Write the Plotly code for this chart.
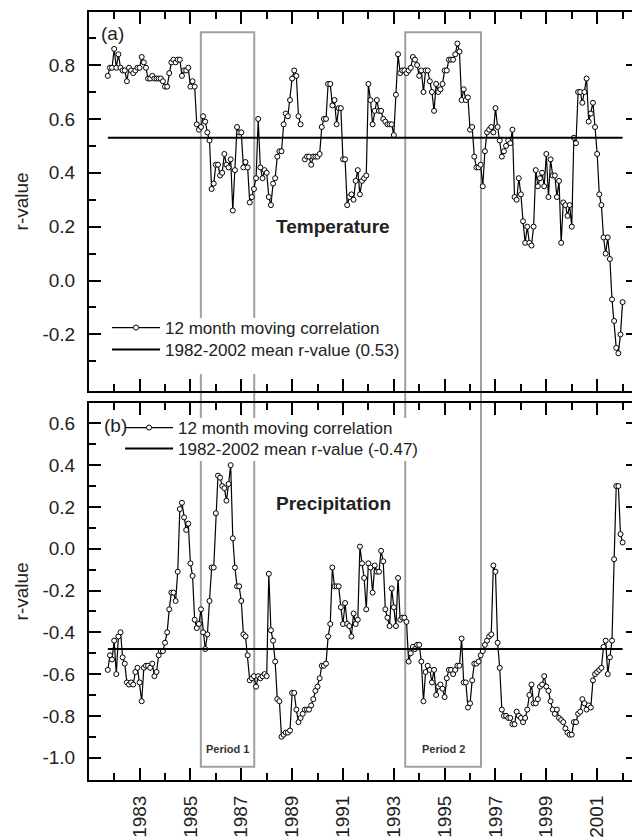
import numpy as np
import plotly.graph_objects as go

# ---------------- data ----------------
START_YEAR = 1981.75          # first month of the 12-month moving correlation series
TEMP_R = [
    0.76, 0.79, 0.79, 0.86, 0.79, 0.84, 0.79, 0.78, 0.78, 0.74,
    0.79, 0.78, 0.77, 0.78, 0.79, 0.79, 0.83, 0.81, 0.79, 0.75,
    0.75, 0.76, 0.75, 0.75, 0.75, 0.75, 0.74, 0.72, 0.72, 0.77,
    0.81, 0.82, 0.81, 0.82, 0.82, 0.76, 0.78, 0.78, 0.79, 0.72,
    0.74, 0.72, 0.58, 0.56, 0.57, 0.61, 0.59, 0.55, 0.52, 0.34,
    0.36, 0.43, 0.43, 0.39, 0.40, 0.47, 0.43, 0.42, 0.45, 0.26,
    0.41, 0.57, 0.55, 0.55, 0.42, 0.44, 0.42, 0.29, 0.31, 0.34,
    0.38, 0.60, 0.42, 0.38, 0.41, 0.40, 0.31, 0.28, 0.36, 0.38,
    0.46, 0.48, 0.48, 0.58, 0.62, 0.61, 0.67, 0.75, 0.78, 0.76,
    0.61, 0.58, None, 0.45, 0.46, 0.46, 0.43, 0.46, 0.46, 0.46,
    0.47, 0.57, 0.60, 0.60, 0.73, 0.73, 0.65, 0.67, 0.58, 0.64,
    0.64, 0.45, 0.45, 0.28, 0.31, 0.32, 0.30, 0.37, 0.41, 0.32,
    0.37, 0.38, 0.39, 0.73, 0.67, 0.58, 0.63, 0.67, 0.63, 0.63,
    0.60, 0.59, 0.58, 0.58, 0.58, 0.54, 0.69, 0.84, 0.77, 0.78,
    0.78, 0.77, 0.78, 0.79, 0.83, 0.82, 0.80, 0.76, 0.78, 0.70,
    0.78, 0.78, 0.74, 0.70, 0.63, 0.73, 0.70, 0.71, 0.73, 0.78,
    0.78, 0.82, 0.82, 0.82, 0.84, 0.88, 0.85, 0.67, 0.71, 0.67,
    0.68, 0.56, 0.57, 0.46, 0.42, 0.42, 0.43, 0.35, 0.48, 0.55,
    0.56, 0.57, 0.55, 0.64, 0.57, 0.52, 0.46, 0.48, 0.50, 0.52,
    0.51, 0.56, 0.31, 0.30, 0.38, 0.32, 0.22, 0.14, 0.20, 0.14,
    0.13, 0.20, 0.41, 0.35, 0.38, 0.40, 0.35, 0.47, 0.31, 0.45,
    0.39, 0.39, 0.31, 0.37, 0.14, 0.29, 0.28, 0.24, 0.28, 0.20,
    0.53, 0.51, 0.70, 0.70, 0.66, 0.70, 0.75, 0.59, 0.62, 0.66,
    0.57, 0.47, 0.32, 0.28, 0.16, 0.10, 0.16, 0.08, -0.07, -0.15,
    -0.25, -0.27, -0.20, -0.08,
]
PRECIP_R = [
    -0.58, -0.51, -0.53, -0.44, -0.60, -0.42, -0.40, -0.52, -0.55, -0.64,
    -0.65, -0.64, -0.65, -0.59, -0.57, -0.64, -0.73, -0.57, -0.56, -0.56,
    -0.57, -0.55, -0.61, -0.59, -0.51, -0.49, -0.49, -0.45, -0.40, -0.29,
    -0.21, -0.21, -0.25, -0.11, 0.19, 0.22, 0.15, 0.09, 0.12, -0.07,
    -0.13, -0.34, -0.38, -0.36, -0.29, -0.40, -0.48, -0.41, -0.25, -0.09,
    -0.09, 0.17, 0.35, 0.34, 0.30, 0.29, 0.23, 0.31, 0.40, 0.05,
    -0.09, -0.18, -0.18, -0.25, -0.41, -0.42, -0.51, -0.63, -0.62, -0.61,
    -0.66, -0.61, -0.62, -0.61, -0.60, -0.61, -0.12, -0.39, -0.44, -0.54,
    -0.72, -0.73, -0.90, -0.89, -0.88, -0.88, -0.87, -0.69, -0.69, -0.77,
    -0.83, -0.81, -0.79, -0.77, -0.77, -0.77, -0.75, -0.72, -0.68, -0.66,
    -0.62, -0.56, -0.56, -0.55, -0.42, -0.36, -0.09, -0.18, -0.18, -0.18,
    -0.28, -0.36, -0.26, -0.36, -0.37, -0.42, -0.31, -0.36, -0.34, 0.01,
    -0.07, -0.14, -0.29, -0.07, -0.09, -0.21, -0.08, -0.11, -0.11, -0.01,
    -0.06, -0.29, -0.33, -0.37, -0.19, -0.28, -0.37, -0.14, -0.34, -0.33,
    -0.33, -0.35, -0.54, -0.50, -0.47, -0.48, -0.46, -0.46, -0.54, -0.73,
    -0.59, -0.56, -0.58, -0.64, -0.58, -0.70, -0.66, -0.65, -0.67, -0.71,
    -0.62, -0.58, -0.58, -0.60, -0.58, -0.56, -0.56, -0.43, -0.64, -0.64,
    -0.76, -0.74, -0.63, -0.55, -0.55, -0.54, -0.51, -0.49, -0.46, -0.44,
    -0.42, -0.41, -0.08, -0.11, -0.45, -0.57, -0.77, -0.80, -0.80, -0.81,
    -0.81, -0.84, -0.84, -0.78, -0.80, -0.81, -0.83, -0.81, -0.77, -0.70,
    -0.65, -0.74, -0.74, -0.72, -0.66, -0.65, -0.61, -0.66, -0.68, -0.73,
    -0.77, -0.79, -0.77, -0.81, -0.82, -0.83, -0.86, -0.88, -0.89, -0.89,
    -0.83, -0.83, -0.79, -0.78, -0.72, -0.74, -0.77, -0.75, -0.76, -0.63,
    -0.60, -0.59, -0.58, -0.57, -0.47, -0.44, -0.60, -0.52, -0.44, -0.05,
    0.30, 0.30, 0.07, 0.03,
]
TEMP_MEAN = 0.53
PRECIP_MEAN = -0.48
TEMP_MEAN_LABEL = "1982-2002 mean r-value (0.53)"
PRECIP_MEAN_LABEL = "1982-2002 mean r-value (-0.47)"
SERIES_LABEL = "12 month moving correlation"
PERIODS = [("Period 1", 1985.41, 1987.51), ("Period 2", 1993.45, 1996.43)]
YEAR_TICKS = list(range(1983, 2002, 2))
MINOR_YEAR_TICKS = list(range(1982, 2003, 2))
TEMP_YTICKS = [-0.2, 0.0, 0.2, 0.4, 0.6, 0.8]
TEMP_MINOR = [-0.3, -0.1, 0.1, 0.3, 0.5, 0.7, 0.9]
PRECIP_YTICKS = [-1.0, -0.8, -0.6, -0.4, -0.2, 0.0, 0.2, 0.4, 0.6]
PRECIP_MINOR = [-0.9, -0.7, -0.5, -0.3, -0.1, 0.1, 0.3, 0.5]

# ---------------- figure ----------------
W, H = 632, 839
ML, MT, MB = 89, 12, 59
PW, PH = W - ML, H - MT - MB


def px_x(p):  # pixel -> paper x
    return (p - ML) / PW


def px_y(p):  # pixel -> paper y
    return (H - MB - p) / PH


FONT = "Liberation Sans, Arial, sans-serif"
TXT = "#222"
x_t = list(START_YEAR + np.arange(len(TEMP_R)) / 12.0)
x_p = list(START_YEAR + np.arange(len(PRECIP_R)) / 12.0)

fig = go.Figure()
marker = dict(symbol="circle", size=5, color="white", line=dict(color="black", width=1))

fig.add_trace(go.Scatter(x=x_t, y=TEMP_R, mode="lines+markers", name=SERIES_LABEL,
                         line=dict(color="black", width=1.2), marker=marker,
                         xaxis="x", yaxis="y", legend="legend"))
fig.add_trace(go.Scatter(x=[x_t[0], x_t[-1]], y=[TEMP_MEAN, TEMP_MEAN], mode="lines",
                         name=TEMP_MEAN_LABEL, line=dict(color="black", width=2),
                         xaxis="x", yaxis="y3", legend="legend2"))
fig.add_trace(go.Scatter(x=x_p, y=PRECIP_R, mode="lines+markers", name=SERIES_LABEL,
                         line=dict(color="black", width=1.2), marker=marker,
                         xaxis="x2", yaxis="y2", legend="legend3"))
fig.add_trace(go.Scatter(x=[x_p[0], x_p[-1]], y=[PRECIP_MEAN, PRECIP_MEAN], mode="lines",
                         name=PRECIP_MEAN_LABEL, line=dict(color="black", width=2),
                         xaxis="x2", yaxis="y4", legend="legend4"))

XR = [1981.01, 2002.37]
TEMP_YR = [-0.409, 0.997]
PRECIP_YR = [-1.107, 0.699]
common_x = dict(range=XR, showline=True, linecolor="black", linewidth=2, mirror="ticks",
                ticks="inside", ticklen=12, tickwidth=1.5, tickcolor="black",
                tickmode="array", tickvals=YEAR_TICKS, ticktext=[str(v) for v in YEAR_TICKS],
                minor=dict(tickmode="array", tickvals=MINOR_YEAR_TICKS, ticks="inside",
                           ticklen=7, tickwidth=1.5, tickcolor="black"),
                showgrid=False, zeroline=False, automargin=False)
common_y = dict(showline=True, linecolor="black", linewidth=2, mirror=False,
                ticks="inside", ticklen=12, tickwidth=1.5, tickcolor="black",
                tickmode="array", showgrid=False, zeroline=False, automargin=False,
                tickfont=dict(size=19, family=FONT, color=TXT),
                ticklabelstandoff=8,
                title=dict(text="r-value", font=dict(size=19, family=FONT, color=TXT),
                           standoff=9))
right_y = dict(side="right", showline=False, ticks="inside", ticklen=6, tickwidth=1.5,
               tickcolor="black", tickmode="array", showticklabels=False,
               showgrid=False, zeroline=False, automargin=False)


def legend_box(xp, yp):
    return dict(x=px_x(xp), y=px_y(yp), xanchor="left", yanchor="middle",
                bgcolor="rgba(0,0,0,0)", borderwidth=0,
                font=dict(size=17, family=FONT, color=TXT),
                itemwidth=48, tracegroupgap=0)


fig.update_layout(
    width=W, height=H,
    margin=dict(l=ML, r=0, t=MT, b=MB, autoexpand=False),
    paper_bgcolor="white", plot_bgcolor="rgba(0,0,0,0)",
    font=dict(family=FONT, color=TXT),
    xaxis=dict(domain=[0, 1], anchor="y", showticklabels=False, **common_x),
    xaxis2=dict(domain=[0, 1], anchor="y2", matches="x", showticklabels=True,
                tickangle=-90, tickfont=dict(size=19, family=FONT, color=TXT),
                ticklabelstandoff=6, **common_x),
    yaxis=dict(domain=[px_y(390.7), 1], anchor="x", range=TEMP_YR,
               tickvals=TEMP_YTICKS, ticktext=[f"{v:.1f}" for v in TEMP_YTICKS],
               minor=dict(tickmode="array", tickvals=TEMP_MINOR, ticks="inside",
                          ticklen=7, tickwidth=1.5, tickcolor="black"),
               **common_y),
    yaxis2=dict(domain=[0, px_y(402.7)], anchor="x2", range=PRECIP_YR,
                tickvals=PRECIP_YTICKS, ticktext=[f"{v:.1f}" for v in PRECIP_YTICKS],
                minor=dict(tickmode="array", tickvals=PRECIP_MINOR, ticks="inside",
                           ticklen=7, tickwidth=1.5, tickcolor="black"),
                **common_y),
    yaxis3=dict(overlaying="y", anchor="x", range=TEMP_YR, tickvals=TEMP_YTICKS, **right_y),
    yaxis4=dict(overlaying="y2", anchor="x2", range=PRECIP_YR, tickvals=PRECIP_YTICKS, **right_y),
    legend=legend_box(107, 328),
    legend2=legend_box(107, 350),
    legend3=legend_box(120, 428),
    legend4=legend_box(120, 449),
    showlegend=True,
)

for label, x0, x1 in PERIODS:
    fig.add_shape(type="rect", xref="x", yref="paper", x0=x0, x1=x1,
                  y0=px_y(766.7), y1=px_y(32.3),
                  line=dict(color="#a0a0a0", width=2), fillcolor="rgba(0,0,0,0)", layer="below")
    fig.add_annotation(x=(x0 + x1) / 2, xref="x", y=px_y(749), yref="paper",
                       xanchor="center", yanchor="middle",
                       text=f"<b>{label}</b>", showarrow=False,
                       font=dict(size=11, family=FONT, color="#333"))

# white backgrounds behind the two legends (they hide the period frames)
for (a, b, c, d) in [(110, 318, 402, 374), (125, 418, 428, 461)]:
    fig.add_shape(type="rect", xref="paper", yref="paper", x0=px_x(a), x1=px_x(c),
                  y0=px_y(d), y1=px_y(b), line=dict(width=0), fillcolor="white", layer="below")

ann_font = dict(size=19, family=FONT, color=TXT)
fig.add_annotation(x=px_x(99), y=px_y(33), xref="paper", yref="paper", text="(a)",
                   xanchor="left", yanchor="middle", showarrow=False, font=ann_font)
fig.add_annotation(x=px_x(102), y=px_y(425), xref="paper", yref="paper", text="(b)",
                   xanchor="left", yanchor="middle", showarrow=False, font=ann_font)
fig.add_annotation(x=px_x(333), y=px_y(227), xref="paper", yref="paper",
                   text="<b>Temperature</b>", xanchor="center", yanchor="middle",
                   showarrow=False, font=ann_font)
fig.add_annotation(x=px_x(333), y=px_y(503), xref="paper", yref="paper",
                   text="<b>Precipitation</b>", xanchor="center", yanchor="middle",
                   showarrow=False, font=ann_font)

fig.write_html("out.html", config={"displayModeBar": False},
               post_script="document.body.style.margin='0px';")
